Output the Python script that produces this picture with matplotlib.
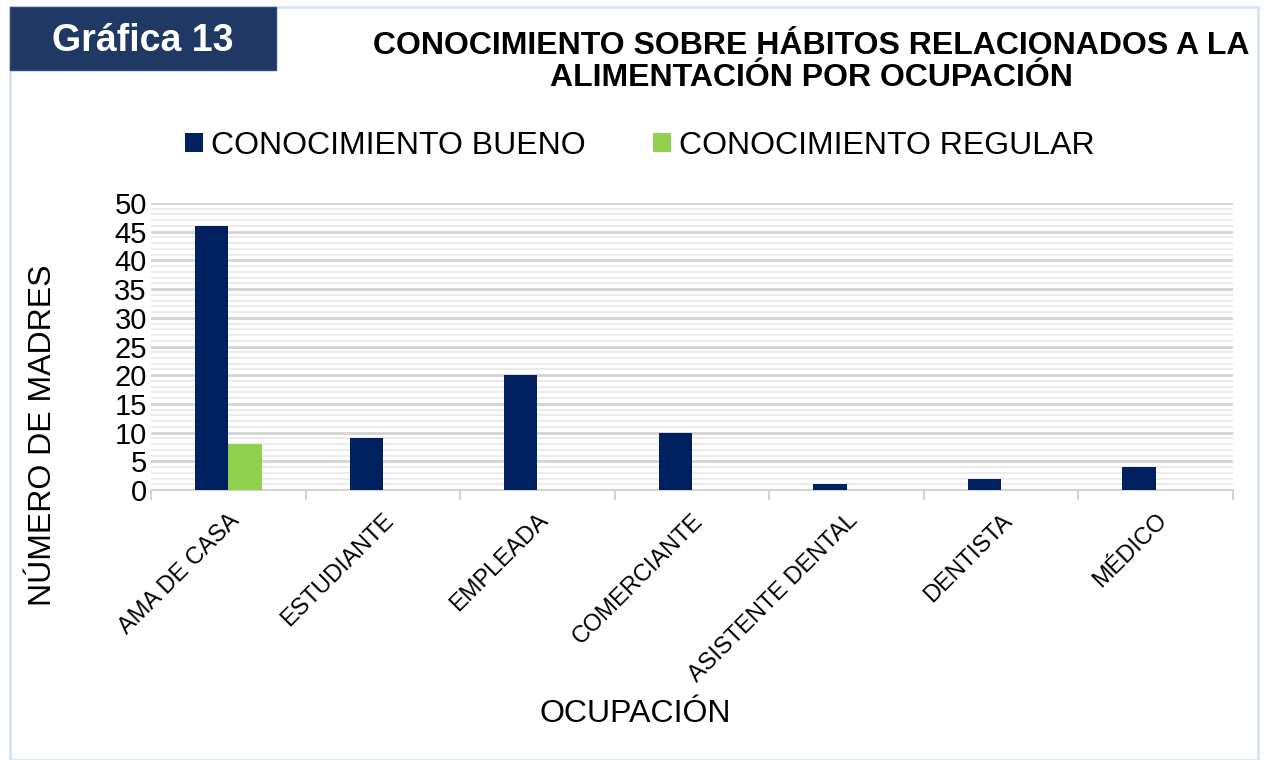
import matplotlib.pyplot as plt
import numpy as np
from matplotlib.patches import Rectangle
from matplotlib.ticker import MultipleLocator

plt.rcParams['font.family'] = ['Liberation Sans', 'DejaVu Sans']

categorias = ['AMA DE CASA', 'ESTUDIANTE', 'EMPLEADA', 'COMERCIANTE',
              'ASISTENTE DENTAL', 'DENTISTA', 'MÉDICO']
bueno = [46, 9, 20, 10, 1, 2, 4]
regular = [8, 0, 0, 0, 0, 0, 0]

navy = '#002060'
verde = '#92d050'

fig = plt.figure(figsize=(12.64, 7.6), dpi=100)

# marco y recuadro del encabezado
fig.patches.append(Rectangle((10 / 1264, 0), 1248 / 1264, 753 / 760, transform=fig.transFigure,
                             fill=False, edgecolor='#dae3f3', linewidth=2))
fig.patches.append(Rectangle((10 / 1264, 1 - 70 / 760), 266 / 1264, 63 / 760, transform=fig.transFigure,
                             facecolor='#1f3864', edgecolor='#2f4b7c', linewidth=1))
fig.text(143 / 1264, 1 - 41 / 760, 'Gráfica 13', color='white', fontsize=27, fontweight='bold',
         ha='center', va='center')
fig.text(811 / 1264, 1 - 62 / 760, 'CONOCIMIENTO SOBRE HÁBITOS RELACIONADOS A LA\nALIMENTACIÓN POR OCUPACIÓN',
         fontsize=23, fontweight='bold', ha='center', va='center', linespacing=1.1)

ax = fig.add_axes([151 / 1264, 1 - 490 / 760, 1082 / 1264, 287 / 760])
x = np.arange(len(categorias))
w = 0.215
ax.bar(x - w / 2, bueno, w, color=navy, label='CONOCIMIENTO BUENO', zorder=3)
ax.bar(x + w / 2, regular, w, color=verde, label='CONOCIMIENTO REGULAR', zorder=3)

ax.set_xlim(-0.5, len(categorias) - 0.5)
ax.set_ylim(0, 50)
ax.yaxis.set_major_locator(MultipleLocator(5))
ax.yaxis.set_minor_locator(MultipleLocator(1))
ax.grid(axis='y', which='major', color='#d4d4d4', linewidth=2, zorder=0)
ax.grid(axis='y', which='minor', color='#ececec', linewidth=1.5, zorder=0)
ax.tick_params(axis='y', which='both', length=0, labelsize=21, pad=3)

ax.set_xticks(x)
ax.set_xticklabels(categorias, rotation=45, ha='right', rotation_mode='anchor', fontsize=17)
ax.set_xticks(np.arange(len(categorias) + 1) - 0.5, minor=True)
ax.tick_params(axis='x', which='major', length=0, pad=14)
ax.tick_params(axis='x', which='minor', length=7, color='#d4d4d4', width=1.5)

for s in ['top', 'right', 'left']:
    ax.spines[s].set_visible(False)
ax.spines['bottom'].set_color('#d4d4d4')
ax.spines['bottom'].set_linewidth(1.5)

fig.text(43 / 1264, 1 - 435 / 760, 'NÚMERO DE MADRES', fontsize=23, rotation=90,
         ha='center', va='center')
fig.text(635 / 1264, 1 - 714 / 760, 'OCUPACIÓN', fontsize=23, ha='center', va='center')

fig.legend(loc='center', bbox_to_anchor=(640 / 1264, 1 - 146 / 760), ncol=2, frameon=False,
           fontsize=23, handlelength=0.56, handleheight=0.56, columnspacing=2.1, handletextpad=0.25)

fig.savefig('out.png', dpi=100)
